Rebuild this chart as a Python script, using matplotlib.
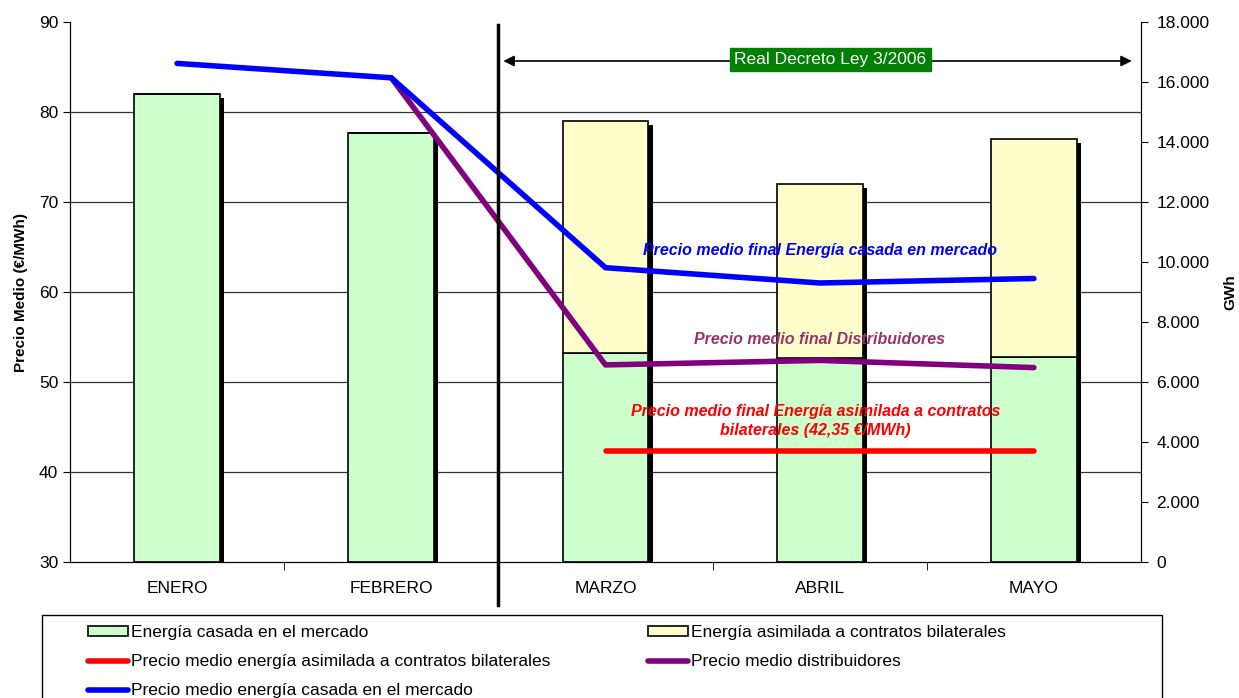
import numpy as np
import matplotlib.pyplot as plt
import matplotlib.patheffects as pe
from matplotlib.lines import Line2D
from matplotlib.patches import Patch, Rectangle
from matplotlib.transforms import blended_transform_factory

plt.rcParams['font.family'] = ['Liberation Sans', 'DejaVu Sans']

meses = ['ENERO', 'FEBRERO', 'MARZO', 'ABRIL', 'MAYO']

# GWh
energia_mercado = [15600, 14300, 6960, 6800, 6830]
energia_bilateral = [0, 0, 7740, 5800, 7270]

# €/MWh
precio_mercado = [85.4, 83.8, 62.7, 61.0, 61.5]
precio_distrib = [np.nan, 83.8, 51.9, 52.4, 51.6]
precio_bilateral = [np.nan, np.nan, 42.35, 42.35, 42.35]

x = np.arange(len(meses))
inicio_rdl = 1.5  # entre FEBRERO y MARZO

fig = plt.figure(figsize=(12.39, 6.98), dpi=100)
ax = fig.add_axes([70 / 1239, 1 - 562 / 698, (1141 - 70) / 1239, 540 / 698])
ax2 = ax.twinx()

# barras debajo, precios encima
ax.set_zorder(2)
ax.patch.set_visible(False)
ax2.set_zorder(1)
ax2.patch.set_facecolor('#c0c0c0')

ax.set_xlim(-0.5, 4.5)
ax.set_ylim(30, 90)
ax2.set_ylim(0, 18000)

# rejilla según la escala de precios
trans = blended_transform_factory(ax2.transAxes, ax.transData)
for t in np.arange(40, 90, 10):
    ax2.plot([0, 1], [t, t], transform=trans, color='#333333', lw=0.9, zorder=0)

# sombra negra de cada columna completa
total = np.add(energia_mercado, energia_bilateral)
sh = ax2.bar(x, total, width=0.40, fc='none', ec='none', zorder=1)
for r in sh:
    r.set_path_effects([pe.SimplePatchShadow(offset=(3, -3), shadow_rgbFace='black', alpha=1)])

ax2.bar(x, energia_mercado, width=0.40, color='#ccffcc', edgecolor='black', lw=1.2, zorder=2)
ax2.bar(x, energia_bilateral, width=0.40, bottom=energia_mercado, color='#ffffcc',
        edgecolor='black', lw=1.2, zorder=2)

ax.plot(x, precio_bilateral, color='red', lw=4, solid_capstyle='round', zorder=3)
ax.plot(x, precio_distrib, color='#800080', lw=4, solid_capstyle='round', zorder=4)
ax.plot(x, precio_mercado, color='blue', lw=4, solid_capstyle='round', zorder=5)

# línea vertical del Real Decreto
trans_v = blended_transform_factory(ax.transData, ax.transAxes)
ax.plot([inicio_rdl, inicio_rdl], [-0.08, 0.995], transform=trans_v, color='black', lw=2.5,
        clip_on=False, zorder=6)
ax2.annotate('', xy=(4.47, 16700), xytext=(1.51, 16700),
             arrowprops=dict(arrowstyle='<|-|>', color='black', lw=1.2, mutation_scale=16), zorder=6)
ax2.text(3.05, 16750, 'Real Decreto Ley 3/2006', color='white', fontsize=12.5, ha='center', va='center',
         bbox=dict(boxstyle='square,pad=0.25', fc='#008000', ec='#008000'), zorder=7)

ax.text(3.0, 64.6, 'Precio medio final Energía casada en mercado', color='blue', fontsize=11.5,
        fontweight='bold', fontstyle='italic', ha='center', va='center', zorder=7)
ax.text(3.0, 54.7, 'Precio medio final Distribuidores', color='#993366', fontsize=11.5,
        fontweight='bold', fontstyle='italic', ha='center', va='center', zorder=7)
ax.text(2.98, 45.7, 'Precio medio final Energía asimilada a contratos\nbilaterales (42,35 €/MWh)',
        color='red', fontsize=11.5, fontweight='bold', fontstyle='italic', ha='center', va='center',
        linespacing=1.35, zorder=7)

# ejes
ax.set_xticks(x)
ax.set_xticklabels(meses, fontsize=12.5)
ax.set_xticks(np.arange(0.5, 4.5, 1), minor=True)
ax.tick_params(axis='x', which='major', length=0, pad=14)
ax.tick_params(axis='x', which='minor', length=6, direction='out')
ax.set_yticks(np.arange(30, 91, 10))
ax.tick_params(axis='y', labelsize=12.5, length=5, direction='out')
ax2.set_yticks(np.arange(0, 18001, 2000))
ax2.set_yticklabels([f'{v:,}'.replace(',', '.') for v in range(0, 18001, 2000)])
ax2.tick_params(axis='y', labelsize=12.5, length=5, pad=6, direction='out')
ax.set_ylabel('Precio Medio (€/MWh)', fontsize=11, fontweight='bold', labelpad=8)
ax2.set_ylabel('GWh', fontsize=11, fontweight='bold', labelpad=10)
for s in ax.spines.values():
    s.set_color('black')
ax.spines['top'].set_visible(False)
ax2.spines['top'].set_visible(False)

# leyenda con marco propio
fig.add_artist(Rectangle((42 / 1239, -0.05), (1162 - 42) / 1239, 0.05 + 83 / 698,
                         transform=fig.transFigure, fc='white', ec='black', lw=1.0))
handles = [
    Patch(fc='#ccffcc', ec='black', lw=1.2),
    Line2D([], [], color='red', lw=4, solid_capstyle='round'),
    Line2D([], [], color='blue', lw=4, solid_capstyle='round'),
    Patch(fc='#ffffcc', ec='black', lw=1.2),
    Line2D([], [], color='#800080', lw=4, solid_capstyle='round'),
]
labels = [
    'Energía casada en el mercado',
    'Precio medio energía asimilada a contratos bilaterales',
    'Precio medio energía casada en el mercado',
    'Energía asimilada a contratos bilaterales',
    'Precio medio distribuidores',
]
fig.legend(handles, labels, ncol=2, loc='upper left',
           bbox_to_anchor=(88 / 1239, 1 - 625 / 698),
           fontsize=12.5, frameon=False, handlelength=2.3, handleheight=0.5,
           handletextpad=0.15, labelspacing=0.82, columnspacing=5.65,
           borderpad=0, borderaxespad=0)

fig.savefig('out.png', dpi=100, facecolor='white')
